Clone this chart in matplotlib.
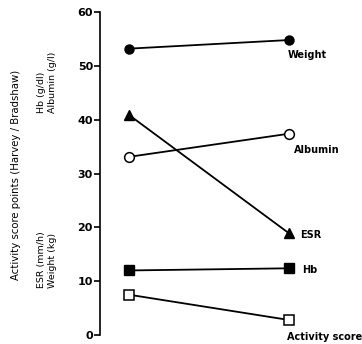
import matplotlib
matplotlib.use('Agg')
import matplotlib.pyplot as plt

# dos momentos (antes / despues)
tiempos = [0, 1]
weight = [53.2, 54.8]
albumin = [33.1, 37.4]
esr = [40.9, 18.9]
hb = [12.0, 12.4]
activity = [7.5, 2.8]

fig = plt.figure(figsize=(3.62, 3.44), dpi=100)
ax = fig.add_axes([0.276, 0.026, 0.724, 0.939])

ax.plot(tiempos, weight, 'k-o', ms=6.5, lw=1.3)
ax.plot(tiempos, albumin, 'k-o', ms=7, lw=1.3, mfc='white', mew=1.1)
ax.plot(tiempos, esr, 'k-^', ms=7.5, lw=1.3)
ax.plot(tiempos, hb, 'k-s', ms=6.5, lw=1.3)
ax.plot(tiempos, activity, 'k-s', ms=6.5, lw=1.3, mfc='white', mew=1.1)

# etiquetas de cada serie
ax.text(0.99, 52.0, 'Weight', fontsize=7, fontweight='bold', va='center')
ax.text(1.03, 34.3, 'Albumin', fontsize=7, fontweight='bold', va='center')
ax.text(1.07, 18.6, 'ESR', fontsize=7, fontweight='bold', va='center')
ax.text(1.08, 12.1, 'Hb', fontsize=7, fontweight='bold', va='center')
ax.text(0.99, -0.4, 'Activity score', fontsize=7, fontweight='bold', va='center')

ax.set_xlim(-0.181, 1.456)
ax.set_ylim(0, 60)
ax.set_yticks([0, 10, 20, 30, 40, 50, 60])
ax.set_xticks([])
for s in ['top', 'right', 'bottom']:
    ax.spines[s].set_visible(False)
ax.spines['left'].set_linewidth(1.2)
ax.tick_params(axis='y', length=4, width=1.2, labelsize=8, pad=1)
for lbl in ax.get_yticklabels():
    lbl.set_fontweight('bold')

# textos del eje y (rotados, empiezan abajo)
fig.text(0.045, 0.186, 'Activity score points (Harvey / Bradshaw)', rotation=90,
         fontsize=7.3, ha='center', va='bottom')
fig.text(0.116, 0.672, 'Hb (g/dl)', rotation=90, fontsize=6.8, ha='center', va='bottom')
fig.text(0.144, 0.672, 'Albumin (g/l)', rotation=90, fontsize=6.8, ha='center', va='bottom')
fig.text(0.116, 0.163, 'ESR (mm/h)', rotation=90, fontsize=6.8, ha='center', va='bottom')
fig.text(0.144, 0.163, 'Weight (kg)', rotation=90, fontsize=6.8, ha='center', va='bottom')

plt.savefig('out.png', dpi=100)
